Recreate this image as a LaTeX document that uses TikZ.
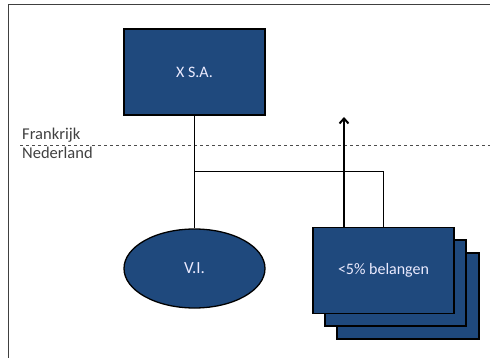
\documentclass[tikz,border=0pt]{standalone}
\usepackage{fontspec}
\setmainfont{Carlito}
\definecolor{entblue}{RGB}{31,73,125}
\definecolor{labelgray}{RGB}{64,64,64}
\usetikzlibrary{arrows.meta,positioning,shapes.geometric}

\tikzset{
  entbox/.style={draw=black, fill=entblue, line width=1.3pt, minimum width=141pt, minimum height=86pt, text=white!92!blue, font=\fontsize{16}{18}\selectfont},
  entoval/.style={ellipse, draw=black, fill=entblue, line width=1.3pt, minimum width=141pt, minimum height=79pt, text=white!92!blue, font=\fontsize{17}{19}\selectfont},
  landlabel/.style={text=labelgray, inner sep=0pt, font=\fontsize{16.5}{18}\selectfont}
}

\begin{document}
\begin{tikzpicture}[x=1pt,y=-1pt]
  \useasboundingbox (0,0) rectangle (490,358);
  % frame
  \draw[line width=1pt, black!75] (8,362) -- (8,5) -- (494,5);

  % border between the two countries
  \draw[dashed, line width=0.8pt, black!70] (20,145) -- (492,145);
  \node[landlabel, anchor=base west] (fr) at (22,140) {Frankrijk};
  \node[landlabel, anchor=base west] (nl) at (22,159) {Nederland};

  % entities
  \node[entbox] (xsa) at (194.5,72) {X S.A.};
  \node[entoval] (vi) at (194.5,268.5) {V.I.};

  \node[entbox, minimum width=142pt] (bel3) at (408,296) {};
  \node[entbox, minimum width=141pt] (bel2) at (395.5,283) {};
  \node[entbox, minimum width=141pt] (bel) at (383.5,270.5) {<5\% belangen};

  % connections
  \coordinate (split) at (194.5,171);
  \coordinate (up) at (344,117);
  \draw[line width=0.8pt] (xsa.south) -- (vi.north);
  \draw[line width=0.8pt] (split) -| (bel.north);
  \draw[-{Straight Barb[length=5pt,width=9pt]}, line width=2pt] ([xshift=-39.5pt]bel.north) -- (up);
\end{tikzpicture}
\end{document}
